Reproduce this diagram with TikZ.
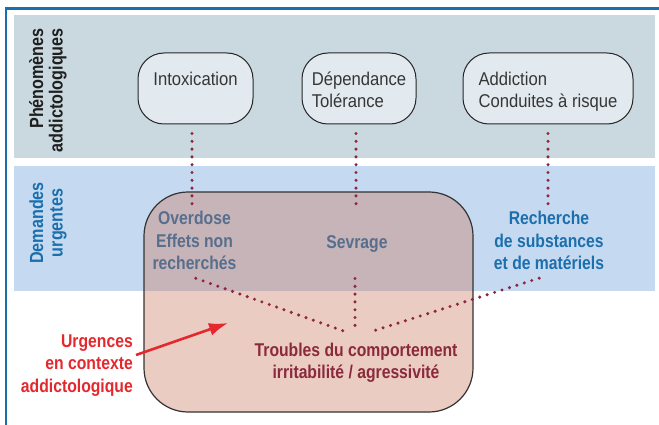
\documentclass[tikz,border=0pt]{standalone}
\usepackage{fontspec}
\usetikzlibrary{arrows.meta}
\newfontfamily\regf{Liberation Sans}[FakeStretch=0.9]
\newfontfamily\boldf{Liberation Sans}[FakeStretch=0.85]
\definecolor{frameblue}{HTML}{1B6FAA}
\definecolor{grayband}{HTML}{CAD8E0}
\definecolor{blueband}{HTML}{C5DAF0}
\definecolor{nodefill}{HTML}{E3EAEF}
\definecolor{txtgray}{HTML}{363636}
\definecolor{labblue}{HTML}{1C6FAD}
\definecolor{urgred}{HTML}{E5282E}
\definecolor{darkred}{HTML}{8A2A3C}
\definecolor{dotred}{HTML}{8B2840}
\definecolor{overlay}{RGB}{200,110,82}
\tikzset{
  phen/.style={draw=black!85, line width=1, fill=nodefill, rounded corners=26,
    inner sep=0, minimum height=71, text height=33, text depth=38,
    font=\regf\fontsize{18.5}{22}\selectfont, text=txtgray},
  btext/.style={inner sep=0, font=\boldf\bfseries\fontsize{18.5}{22.5}\selectfont},
  vlab/.style={inner sep=0, rotate=90, font=\boldf\bfseries\fontsize{19}{19.5}\selectfont},
  dots/.style={dotred, line width=3.4, line cap=round, dash pattern=on 0pt off 7.8pt},
  urgbox/.style={draw=black!80, line width=1.2, fill=overlay, fill opacity=0.35,
    rounded corners=44, minimum width=329, minimum height=220, inner sep=0}
}
\begin{document}
\begin{tikzpicture}[x=1pt,y=-1pt]
\useasboundingbox (0,0) rectangle (659,425);
\fill[white] (0,0) rectangle (659,425);
% bands
\fill[grayband] (14,15) rectangle (655,158);
\fill[blueband] (14,166) rectangle (655,291);
\draw[frameblue, line width=2.5] (6,425) -- (6,8.5) -- (659,8.5);
% side labels
\node[vlab, anchor=base east, text=black!88] (phenlab) at (43,28)
  {\begin{tabular}[t]{@{}r@{}}Phénomènes\\addictologiques\end{tabular}};
\node[vlab, anchor=base, text=labblue] (demlab) at (43,223)
  {\begin{tabular}[t]{@{}c@{}}Demandes\\urgentes\end{tabular}};
% blue texts inside the overlay
\node[btext, anchor=base, text=labblue] (overdose) at (194.5,225)
  {\begin{tabular}[t]{@{}c@{}}Overdose\\Effets non\\recherchés\end{tabular}};
\node[btext, anchor=base, text=labblue] (sevrage) at (357,248) {Sevrage};
% overlay box
\node[urgbox] (box) at (308.5,302) {};
\node[btext, anchor=base, text=labblue] (recherche) at (549,225)
  {\begin{tabular}[t]{@{}c@{}}Recherche\\de substances\\et de matériels\end{tabular}};
\node[btext, anchor=base, text=darkred] (troubles) at (356,356)
  {\begin{tabular}[t]{@{}c@{}}Troubles du comportement\\irritabilité / agressivité\end{tabular}};
\node[btext, anchor=base east, text=urgred] (urg) at (133,347)
  {\begin{tabular}[t]{@{}r@{}}Urgences\\en contexte\\addictologique\end{tabular}};
% top nodes
\node[phen, minimum width=115] (intox) at (195.5,88.5)
  {\begin{tabular}[t]{@{}l@{}}Intoxication\end{tabular}};
\node[phen, minimum width=114] (dep) at (359,88.5)
  {\begin{tabular}[t]{@{}l@{}}Dépendance\\Tolérance\end{tabular}};
\node[phen, minimum width=170] (addi) at (548,88.5)
  {\begin{tabular}[t]{@{}l@{}}Addiction\\Conduites à risque\end{tabular}};
% dotted connectors
\draw[dots, shorten <=9, shorten >=4] ([xshift=-3.5]intox.south) -- ([xshift=-3.5]intox.south |- overdose.north);
\draw[dots, shorten <=9, shorten >=27] ([xshift=-3]dep.south) -- ([xshift=-3]dep.south |- sevrage.north);
\draw[dots, shorten <=9, shorten >=4.5] (addi.south) -- (addi.south |- recherche.north);
\coordinate (tl) at (345,331.5);
\coordinate (tr) at (370,332);
\draw[dots, shorten <=4] ([xshift=-2.5]overdose.south) -- (tl);
\draw[dots, shorten <=26.4, shorten >=8.6] ([xshift=-2]sevrage.south) -- ([xshift=-1]troubles.north);
\draw[dots, shorten <=4] ([xshift=-6]recherche.south) -- (tr);
% red arrow
\coordinate (arrstart) at (136,355);
\coordinate (arrtip) at (228,323);
\draw[urgred, line width=2.6, -{Latex[length=19pt,width=13pt]}] (arrstart) -- (arrtip);
\end{tikzpicture}
\end{document}
